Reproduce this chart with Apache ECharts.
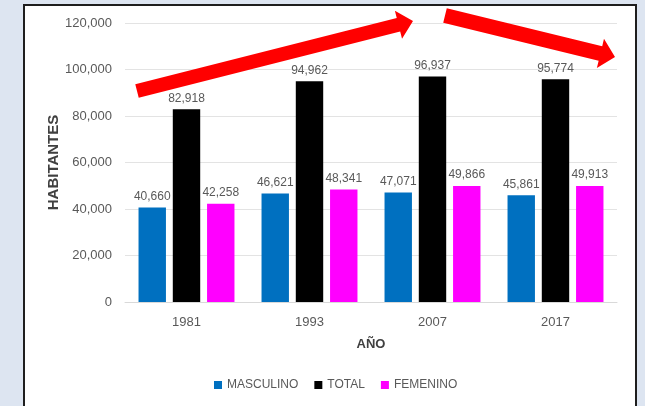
<!DOCTYPE html>
<html>
<head>
<meta charset="utf-8">
<script src="https://cdn.jsdelivr.net/npm/echarts@6/dist/echarts.min.js"></script>
<style>
  html, body { margin: 0; padding: 0; background: #dde5f1; }
  #chart { width: 645px; height: 406px; }
</style>
</head>
<body>
<div id="chart"></div>
<script>
var years = ['1981', '1993', '2007', '2017'];
var masculino = [40660, 46621, 47071, 45861];
var total = [82918, 94962, 96937, 95774];
var femenino = [42258, 48341, 49866, 49913];

// flecha roja: cola, punta, medio ancho del cuerpo, medio ancho y largo de la punta
function arrowPoints(tail, tip, sh, hh, hl) {
	var dx = tip[0] - tail[0], dy = tip[1] - tail[1];
	var len = Math.sqrt(dx * dx + dy * dy);
	var ux = dx / len, uy = dy / len;
	var nx = -uy, ny = ux;
	var bx = tip[0] - ux * hl, by = tip[1] - uy * hl;
	return [
		[tail[0] + nx * sh, tail[1] + ny * sh],
		[bx + nx * sh, by + ny * sh],
		[bx + nx * hh, by + ny * hh],
		tip,
		[bx - nx * hh, by - ny * hh],
		[bx - nx * sh, by - ny * sh],
		[tail[0] - nx * sh, tail[1] - ny * sh]
	];
}

var chart = echarts.init(document.getElementById('chart'));
var font = 'Liberation Sans, Arial, sans-serif';
var labelStyle = {
	show: true,
	position: 'top',
	distance: 5,
	color: '#595959',
	fontFamily: font,
	fontSize: 12,
	formatter: function (p) { return p.value.toLocaleString('en-US'); }
};

var option = {
	backgroundColor: '#dde5f1',
	animation: false,
	graphic: [
		{
			type: 'rect', z: -10,
			shape: { x: 24, y: 5, width: 612, height: 420 },
			style: { fill: '#ffffff', stroke: '#1e1e1e', lineWidth: 2 }
		},
		{
			type: 'polygon', z: 100,
			shape: { points: arrowPoints([137, 91], [413, 21], 7, 14.5, 15) },
			style: { fill: '#ff0000' }
		},
		{
			type: 'polygon', z: 100,
			shape: { points: arrowPoints([445, 15.5], [615, 57], 7.5, 15, 15) },
			style: { fill: '#ff0000' }
		}
	],
	legend: {
		left: 209,
		top: 374,
		itemWidth: 8,
		itemHeight: 8,
		itemGap: 16,
		icon: 'rect',
		textStyle: { color: '#595959', fontFamily: font, fontSize: 12 },
		data: ['MASCULINO', 'TOTAL', 'FEMENINO']
	},
	grid: { left: 125, right: 28, top: 23, bottom: 104 },
	xAxis: {
		type: 'category',
		data: years,
		name: 'AÑO',
		nameLocation: 'middle',
		nameGap: 36,
		nameTextStyle: { color: '#404040', fontWeight: 'bold', fontFamily: font, fontSize: 13 },
		axisLine: { lineStyle: { color: '#d9d9d9' } },
		axisTick: { show: false },
		axisLabel: { color: '#595959', fontFamily: font, fontSize: 13, margin: 14 }
	},
	yAxis: {
		type: 'value',
		min: 0,
		max: 120000,
		interval: 20000,
		name: 'HABITANTES',
		nameLocation: 'middle',
		nameGap: 64,
		nameMoveOverlap: false,
		nameTextStyle: { color: '#404040', fontWeight: 'bold', fontFamily: font, fontSize: 15 },
		splitLine: { lineStyle: { color: '#e3e3e3' } },
		axisLabel: {
			color: '#595959', fontFamily: font, fontSize: 13, margin: 13,
			formatter: function (v) { return v.toLocaleString('en-US'); }
		}
	},
	series: [
		{ name: 'MASCULINO', type: 'bar', data: masculino, itemStyle: { color: '#0070c0' },
		  barGap: '25%', barCategoryGap: '22%', label: labelStyle },
		{ name: 'TOTAL', type: 'bar', data: total, itemStyle: { color: '#000000' }, label: labelStyle },
		{ name: 'FEMENINO', type: 'bar', data: femenino, itemStyle: { color: '#ff00ff' }, label: labelStyle }
	]
};
chart.setOption(option);
</script>
</body>
</html>
